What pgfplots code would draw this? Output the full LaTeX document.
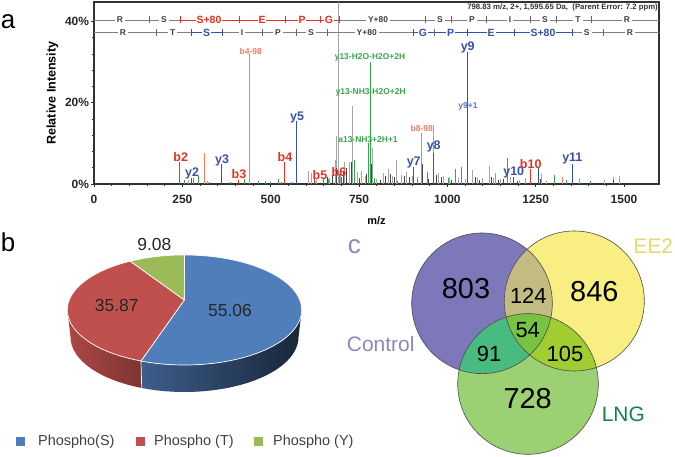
\documentclass[border=0pt]{standalone}
\usepackage{pgfplots}
\pgfplotsset{compat=1.18}
\usepackage{fontspec}
\setmainfont{Liberation Sans}
\definecolor{pkred}{RGB}{225,50,35}
\definecolor{pkblue}{RGB}{55,80,170}
\definecolor{pkgreen}{RGB}{55,165,75}
\definecolor{pksalmon}{RGB}{243,125,95}
\definecolor{pkgrey}{RGB}{165,165,165}
\definecolor{pkdark}{RGB}{70,70,70}
\definecolor{pieblue}{RGB}{80,126,186}
\definecolor{piered}{RGB}{192,80,77}
\definecolor{piegreen}{RGB}{155,187,89}
\definecolor{vc}{RGB}{125,120,185}
\definecolor{ve}{RGB}{248,238,130}
\definecolor{vl}{RGB}{155,208,115}
\definecolor{vce}{RGB}{195,188,130}
\definecolor{vcl}{RGB}{72,188,128}
\definecolor{vel}{RGB}{160,205,50}
\definecolor{vcel}{RGB}{120,195,65}
\newcommand{\fs}[1]{\fontsize{#1}{#1}\selectfont}
\begin{document}
\begin{tikzpicture}[x=1bp,y=1bp]
\useasboundingbox (0,0) rectangle (675,457);

% spectrum
\begin{axis}[
    at={(94bp,273bp)}, anchor=south west,
    scale only axis, width=565bp, height=182bp,
    xmin=0, xmax=1599, ymin=0, ymax=44.8,
    xtick={0,250,500,750,1000,1250,1500},
    xticklabels={0,250,500,750,1000,1250,1500},
    ytick={0,20,40},
    yticklabels={0\%,20\%,40\%},
    minor x tick num=4, minor y tick num=4,
    xtick pos=bottom, ytick pos=left,
    tick align=outside,
    major tick length=3bp, minor tick length=2bp,
    tick style={color=black!80, line width=0.6bp},
    axis line style={color=black!80, line width=1.1bp},
    tick label style={font=\fs{12}\bfseries, color=black!85},
    xticklabel style={yshift=-5bp},
    yticklabel style={xshift=1.5bp},
    xlabel={m/z}, ylabel={Relative Intensity},
    xlabel style={font=\fs{11}\bfseries, yshift=-6bp},
    ylabel style={font=\fs{12.6}\bfseries, yshift=0bp},
    clip=true,
]
% grey peaks
\addplot[ycomb, color=pkgrey, line width=0.9bp, no marks] coordinates {
(268,1) (607,3.3) (616,2.6) (630,1) (667,1.4) (682,6) (687,11.7) (692,44.8)
(698,2.8) (710,5.5) (724,5.5) (732,19.2) (745,3) (757,3.3) (768,2) (788,8.8)
(800,1.2) (819,2.8) (832,3.8) (845,2) (856,5.9) (870,2.2) (884,3) (900,2)
(916,1.6) (960,14.4) (974,2.6) (990,2) (1005,1.6) (1030,1.5) (1050,1.2) (1072,3.5)
(1085,1.8) (1100,1.4) (1119,4.4) (1130,1.5) (1150,1.2) (1178,1.6) (1205,1)
(1220,1.5) (1266,2.5) (1280,0.8) (1375,1.5) (1445,1) (1470,1.6) (1488,2)
};
% dark peaks
\addplot[ycomb, color=pkdark, line width=0.8bp, no marks] coordinates {
(625,1.2) (660,1.6) (676,2.2) (685,4) (706,3) (715,4) (728,5.5) (738,2.2)
(750,1.5) (772,2.5) (785,5) (810,1) (825,2) (838,2.5) (850,1.8) (878,2)
(893,1.6) (928,5) (945,1.2) (968,2.2) (982,1.6) (1012,1.1) (1040,1.2) (1078,1.8)
(1092,1) (1125,1.6) (1145,1) (1160,1.2) (1198,0.8) (1262,1.2) (1470,1)
};
% green peaks
\addplot[ycomb, color=pkgreen, line width=0.9bp, no marks] coordinates {
(257,1) (281,1.5) (296,1.9) (327,0.6) (385,0.6) (425,1.3) (465,0.8) (484,0.8)
(498,0.6) (522,1.2) (531,0.5) (560,0.4) (649,1.2) (663,1.3) (695,2.5) (736,6)
(778,10) (782,30) (795,1.4) (860,0.8) (915,1.2) (943,3) (1002,1.5) (1022,3.6)
(1040,4.1) (1169,6.3) (1304,2.2) (1336,1.1) (1406,0.7)
};
% neutral-loss peaks
\addplot[ycomb, color=pksalmon, line width=1bp, no marks] coordinates {
(312,7.6) (321,0.8) (441,32) (926,12.6) (1137,2.6) (1325,1.6)
};
\addplot[ycomb, color=pkred, line width=1bp, no marks] coordinates {
(243,5.5) (410,1) (540,5.5) (625,1.4) (700,1.8) (1235,3.6)
};
\addplot[ycomb, color=pkblue, line width=1.1bp, no marks] coordinates {
(277,1.5) (362,5) (573,15.4) (904,4.3) (960,7.6) (1057,32.6) (1188,1.6) (1257,3.9) (1354,5)
};
\end{axis}

% everything else, in picture pixels (y counted downwards as negative)
\begin{axis}[
    at={(0bp,0bp)}, anchor=south west,
    scale only axis, width=675bp, height=457bp,
    xmin=0, xmax=675, ymin=-457, ymax=0,
    hide axis, clip=false,
]
% sequence ladders
\addplot[color=black!50, line width=0.7bp] coordinates {(94,-20) (659,-20)};
\addplot[color=black!50, line width=0.7bp] coordinates {(94,-32.7) (659,-32.7)};
\addplot[color=pkred, line width=0.9bp] coordinates {(180,-20) (339,-20)};
\addplot[color=pkblue, line width=0.9bp] coordinates {(191,-32.7) (222.7,-32.7)};
\addplot[color=pkblue, line width=0.9bp] coordinates {(413,-32.7) (572.7,-32.7)};
\foreach \t in {149,425.7,451.7,486.7,530,556.7,591.7}
  {\edef\tmp{\noexpand\draw[black!60,line width=0.7bp] (\t,-16.5) -- (\t,-23.5);}\tmp}
\foreach \t in {180,239,285,320,339}
  {\edef\tmp{\noexpand\draw[pkred,line width=0.9bp] (\t,-16.5) -- (\t,-23.5);}\tmp}
\foreach \t in {156,262.7,296.7,327,434,603}
  {\edef\tmp{\noexpand\draw[black!60,line width=0.7bp] (\t,-29.2) -- (\t,-36.2);}\tmp}
\foreach \t in {191,222.7,413,467.7,514,572.7}
  {\edef\tmp{\noexpand\draw[pkblue,line width=0.9bp] (\t,-29.2) -- (\t,-36.2);}\tmp}
\tikzset{seq/.style={fill=white, text=black!75, inner xsep=2bp, inner ysep=0bp, font=\fs{8.5}\bfseries},
  seqr/.style={fill=white, text=pkred, inner xsep=1bp, inner ysep=0bp, font=\fs{10.5}\bfseries},
  seqb/.style={fill=white, text=pkblue, inner xsep=1bp, inner ysep=0bp, font=\fs{10.5}\bfseries},
  pk/.style={inner sep=0bp, font=\fs{12.5}\bfseries},
  sm/.style={inner sep=0bp, font=\fs{8.5}\bfseries}}
\node[seq] at (120,-20) {R};
\node[seq] at (164,-20) {S};
\node[seqr] at (209,-20) {S+80};
\node[seqr] at (262,-20) {E};
\node[seqr] at (302,-20) {P};
\node[seqr] at (329,-20) {G};
\node[seq] at (378,-20) {Y+80};
\node[seq] at (440,-20) {S};
\node[seq] at (472,-20) {P};
\node[seq] at (510,-20) {I};
\node[seq] at (545,-20) {S};
\node[seq] at (578,-20) {T};
\node[seq] at (627,-20) {R};
\node[seq] at (123,-32.7) {R};
\node[seq] at (172.7,-32.7) {T};
\node[seqb] at (206.7,-32.7) {S};
\node[seq] at (242,-32.7) {I};
\node[seq] at (278,-32.7) {P};
\node[seq] at (311,-32.7) {S};
\node[seq] at (366.7,-32.7) {Y+80};
\node[seqb] at (423,-32.7) {G};
\node[seqb] at (450.7,-32.7) {P};
\node[seqb] at (491,-32.7) {E};
\node[seqb] at (543,-32.7) {S+80};
\node[seq] at (586.7,-32.7) {S};
\node[seq] at (630,-32.7) {R};
\node[anchor=east, inner sep=0bp, font=\fs{7.8}\bfseries, color=black!80] at (658,-8) {798.83 m/z, 2+, 1,595.65 Da,\ \ (Parent Error: 7.2 ppm)};
% peak labels
\node[pk,pkred] at (180.7,-156.7) {b2};
\node[pk,pkblue] at (192,-173) {y2};
\node[pk,pkblue] at (222,-160) {y3};
\node[pk,pkred] at (239,-174) {b3};
\node[pk,pkred] at (285,-157) {b4};
\node[pk,pkblue] at (297,-118) {y5};
\node[pk,pkred] at (320,-175) {b5};
\node[pk,pkred] at (339,-172.5) {b6};
\node[pk,pkblue] at (467.7,-47.7) {y9};
\node[pk,pkblue] at (433.7,-146.7) {y8};
\node[pk,pkblue] at (413.7,-163) {y7};
\node[pk,pkblue] at (513.7,-172.7) {y10};
\node[pk,pkred] at (530.7,-164) {b10};
\node[pk,pkblue] at (572.3,-159) {y11};
\node[sm,pksalmon] at (250.7,-51) {b4-98};
\node[sm,pksalmon] at (421.7,-128.3) {b8-98};
\node[sm,pkblue!80] at (468,-106) {y9+1};
\node[sm,pkgreen] at (370,-57) {y13-H2O-H2O+2H};
\node[sm,pkgreen] at (370.7,-92) {y13-NH3-H2O+2H};
\node[sm,pkgreen] at (368,-140) {a13-NH3+2H+1};
% panel letters
\node[inner sep=0bp, font=\fs{26}] at (8,-22) {a};
\node[inner sep=0bp, font=\fs{26}] at (8,-242) {b};
\node[inner sep=0bp, font=\fs{26}, color=vc!90] at (354.3,-246.7) {c};

% pie walls, then faces
\path[left color=pieblue!75!black, right color=pieblue!30!black]
  (141,-361) arc[start angle=248.2, end angle=360, x radius=117.2, y radius=55]
  -- (298.5,-337) arc[start angle=0, end angle=-111.8, x radius=114, y radius=55] -- cycle;
\path[left color=piered!90!black, right color=piered!65!black]
  (141,-361) arc[start angle=248.2, end angle=180, x radius=117.2, y radius=55]
  -- (70.5,-337) arc[start angle=180, end angle=248.2, x radius=114, y radius=55] -- cycle;
\draw[white, fill=pieblue, line width=0.7bp] (184.3,-300) -- (184.5,-255)
  arc[start angle=90, end angle=-111.8, x radius=117.2, y radius=55] -- cycle;
\draw[white, fill=piered, line width=0.7bp] (184.3,-300) -- (141,-361)
  arc[start angle=248.2, end angle=117.6, x radius=117.2, y radius=55] -- cycle;
\draw[white, fill=piegreen, line width=0.7bp] (184.3,-300) -- (130.2,-261.2)
  arc[start angle=117.6, end angle=90, x radius=117.2, y radius=55] -- cycle;
\draw[white, line width=0.7bp] (141,-361) -- (141.7,-388);
\node[inner sep=0bp, font=\fs{17.5}, color=black!85] at (154.3,-245) {9.08};
\node[inner sep=0bp, font=\fs{17.5}, color=black!85] at (116.7,-305.7) {35.87};
\node[inner sep=0bp, font=\fs{17.5}, color=black!85] at (230,-310.7) {55.06};
% pie legend
\addplot[only marks, mark=square*, mark size=4bp, color=pieblue] coordinates {(20,-441.7)};
\addplot[only marks, mark=square*, mark size=4bp, color=piered] coordinates {(139.7,-441.7)};
\addplot[only marks, mark=square*, mark size=4bp, color=piegreen] coordinates {(258,-441.7)};
\node[anchor=west, inner sep=0bp, font=\fs{14.5}, color=black!75] at (38,-441.7) {Phospho(S)};
\node[anchor=west, inner sep=0bp, font=\fs{14.5}, color=black!75] at (154,-441.7) {Phospho (T)};
\node[anchor=west, inner sep=0bp, font=\fs{14.5}, color=black!75] at (273,-441.7) {Phospho (Y)};

% venn
\fill[vc] (482,-303.3) circle[radius=70.3];
\fill[ve] (574.3,-301) circle[radius=70];
\fill[vl] (528,-384) circle[radius=70.3];
\begin{scope}
  \clip (482,-303.3) circle[radius=70.3];
  \fill[vce] (574.3,-301) circle[radius=70];
  \fill[vcl] (528,-384) circle[radius=70.3];
  \clip (574.3,-301) circle[radius=70];
  \fill[vcel] (528,-384) circle[radius=70.3];
\end{scope}
\begin{scope}
  \clip (574.3,-301) circle[radius=70];
  \clip (528,-384) circle[radius=70.3];
  \fill[vel] (528,-384) circle[radius=70.3];
  \clip (482,-303.3) circle[radius=70.3];
  \fill[vcel] (528,-384) circle[radius=70.3];
\end{scope}
\draw[black!70, line width=0.6bp] (482,-303.3) circle[radius=70.3];
\draw[black!70, line width=0.6bp] (574.3,-301) circle[radius=70];
\draw[black!70, line width=0.6bp] (528,-384) circle[radius=70.3];
\node[inner sep=0bp, font=\fs{29}] at (466,-289) {803};
\node[inner sep=0bp, font=\fs{29}] at (594.3,-291.7) {846};
\node[inner sep=0bp, font=\fs{29}] at (527.7,-398.3) {728};
\node[inner sep=0bp, font=\fs{22}] at (528.3,-296) {124};
\node[inner sep=0bp, font=\fs{22}] at (527.7,-330) {54};
\node[inner sep=0bp, font=\fs{22}] at (489,-354.3) {91};
\node[inner sep=0bp, font=\fs{22}] at (565,-353.7) {105};
\node[inner sep=0bp, font=\fs{21}, color=vc!90] at (380.7,-344.3) {Control};
\node[inner sep=0bp, font=\fs{21}, color={rgb,255:red,228;green,215;blue,110}] at (653.3,-246.7) {EE2};
\node[inner sep=0bp, font=\fs{21}, color={rgb,255:red,20;green,130;blue,70}] at (623.3,-414) {LNG};
\end{axis}
\end{tikzpicture}
\end{document}
